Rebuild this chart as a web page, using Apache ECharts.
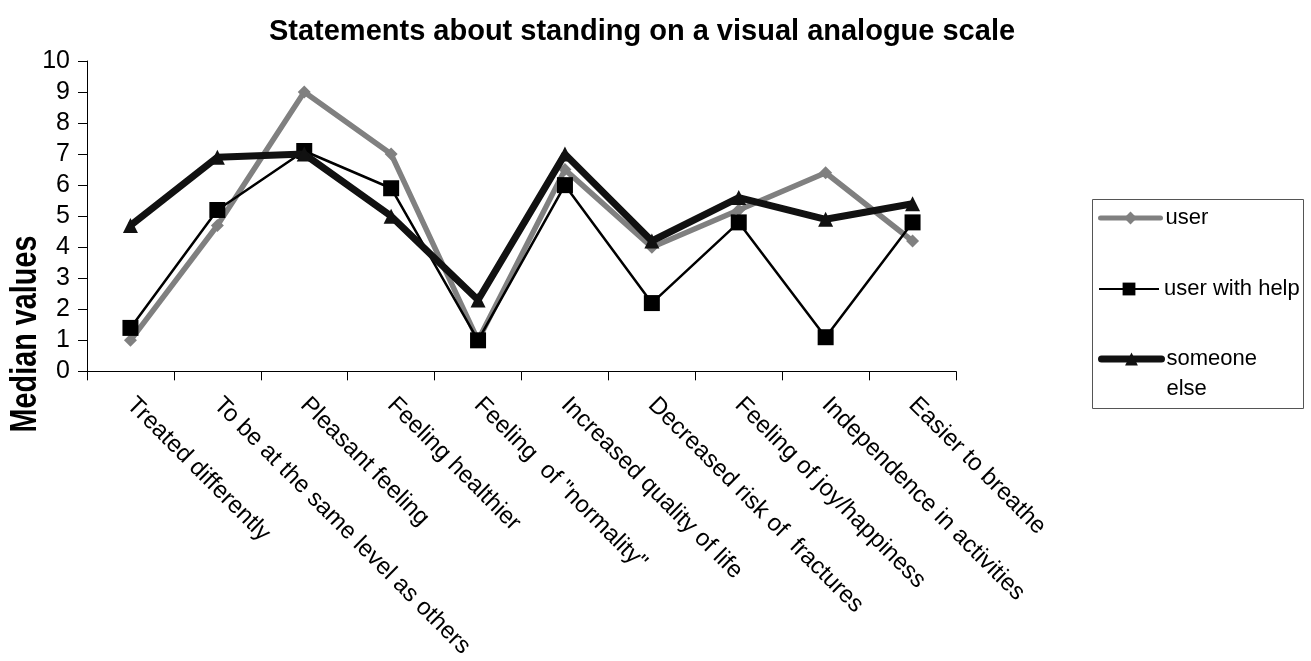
<!DOCTYPE html>
<html>
<head>
<meta charset="utf-8">
<script src="https://cdn.jsdelivr.net/npm/echarts@6/dist/echarts.min.js"></script>
<style>
html,body{margin:0;padding:0;background:#fff;}
#chart{width:1311px;height:661px;}
</style>
</head>
<body>
<div id="chart"></div>
<script>
const categories = [
  'Treated differently',
  'To be at the same level as others',
  'Pleasant feeling',
  'Feeling healthier',
  'Feeling  of "normality"',
  'Increased quality of life',
  'Decreased risk of  fractures',
  'Feeling of joy/happiness',
  'Independence in activities',
  'Easier to breathe'
];
const userValues = [1.0, 4.7, 9.0, 7.0, 1.0, 6.5, 4.0, 5.2, 6.4, 4.2];
const userWithHelpValues = [1.4, 5.2, 7.1, 5.9, 1.0, 6.0, 2.2, 4.8, 1.1, 4.8];
const someoneElseValues = [4.7, 6.9, 7.0, 5.0, 2.3, 7.0, 4.2, 5.6, 4.9, 5.4];
const seriesNames = ['user', 'user with help', 'someone else'];
const yTicks = [0, 1, 2, 3, 4, 5, 6, 7, 8, 9, 10];

const SANS = "'Liberation Sans', Arial, sans-serif";

const legendText = { fontFamily: SANS, fontSize: 22, color: '#000', lineHeight: 25 };

const chart = echarts.init(document.getElementById('chart'));
chart.setOption({
  backgroundColor: '#ffffff',
  animation: false,
  title: {
    text: 'Statements about standing on a visual analogue scale',
    left: 637, textAlign: 'center', top: 12,
    textStyle: { fontFamily: SANS, fontWeight: 'bold', fontSize: 29, color: '#000' }
  },
  grid: { left: 87, right: 355, top: 61, bottom: 288, containLabel: false },
  xAxis: {
    type: 'category',
    data: categories,
    boundaryGap: true,
    axisLine: { lineStyle: { color: '#000', width: 1 } },
    axisTick: { show: true, length: 9, inside: false, lineStyle: { color: '#000' } },
    axisLabel: {
      interval: 0, rotate: -45, margin: 30,
      fontFamily: SANS, fontSize: 24, color: '#000'
    },
    splitLine: { show: false }
  },
  yAxis: {
    type: 'value',
    min: 0, max: 10, interval: 1,
    axisLine: { show: true, lineStyle: { color: '#000', width: 1 } },
    axisTick: { show: true, length: 9, inside: false, lineStyle: { color: '#000' } },
    axisLabel: {
      margin: 17, fontFamily: SANS, fontSize: 25, color: '#000',
      formatter: function (v) { return yTicks.indexOf(v) >= 0 ? String(v) : ''; }
    },
    splitLine: { show: false }
  },
  graphic: [
    {
      type: 'text', x: 26, y: 334, rotation: Math.PI / 2, scaleX: 0.8,
      style: {
        text: 'Median values', fill: '#000',
        font: "bold 36px " + SANS,
        textAlign: 'center', textVerticalAlign: 'middle'
      }
    },
    {
      type: 'rect', shape: { x: 1092.5, y: 199.5, width: 211, height: 209 },
      style: { fill: 'none', stroke: '#555', lineWidth: 1 }
    }
  ],
  legend: [
    {
      orient: 'vertical', left: 1098, top: 205.5, padding: 0,
      itemWidth: 60, itemHeight: 16, textStyle: legendText,
      lineStyle: { width: 5, cap: 'round' },
      data: [seriesNames[0]]
    },
    {
      orient: 'vertical', left: 1098, top: 276.5, padding: 0,
      itemWidth: 60, itemHeight: 16, textStyle: legendText,
      lineStyle: { width: 2 },
      data: [seriesNames[1]]
    },
    {
      orient: 'vertical', left: 1098, top: 314, padding: 0,
      itemWidth: 60, itemHeight: 16,
      textStyle: { fontFamily: SANS, fontSize: 22, color: '#000', lineHeight: 30 },
      lineStyle: { width: 7, cap: 'round' },
      formatter: function (name) { return '\n' + name.replace(' ', '\n'); },
      data: [seriesNames[2]]
    }
  ],
  series: [
    {
      name: seriesNames[0], type: 'line', data: userValues,
      color: '#808080',
      lineStyle: { color: '#808080', width: 5.5 },
      itemStyle: { color: '#808080' },
      symbol: 'diamond', symbolSize: 13, showSymbol: true, z: 2
    },
    {
      name: seriesNames[1], type: 'line', data: userWithHelpValues,
      color: '#000',
      lineStyle: { color: '#000', width: 2.5 },
      itemStyle: { color: '#000' },
      symbol: 'rect', symbolSize: 16, showSymbol: true, z: 3
    },
    {
      name: seriesNames[2], type: 'line', data: someoneElseValues,
      color: '#111',
      lineStyle: { color: '#111', width: 7 },
      itemStyle: { color: '#111' },
      symbol: 'triangle', symbolSize: 15, showSymbol: true, z: 4
    }
  ]
});
</script>
</body>
</html>
